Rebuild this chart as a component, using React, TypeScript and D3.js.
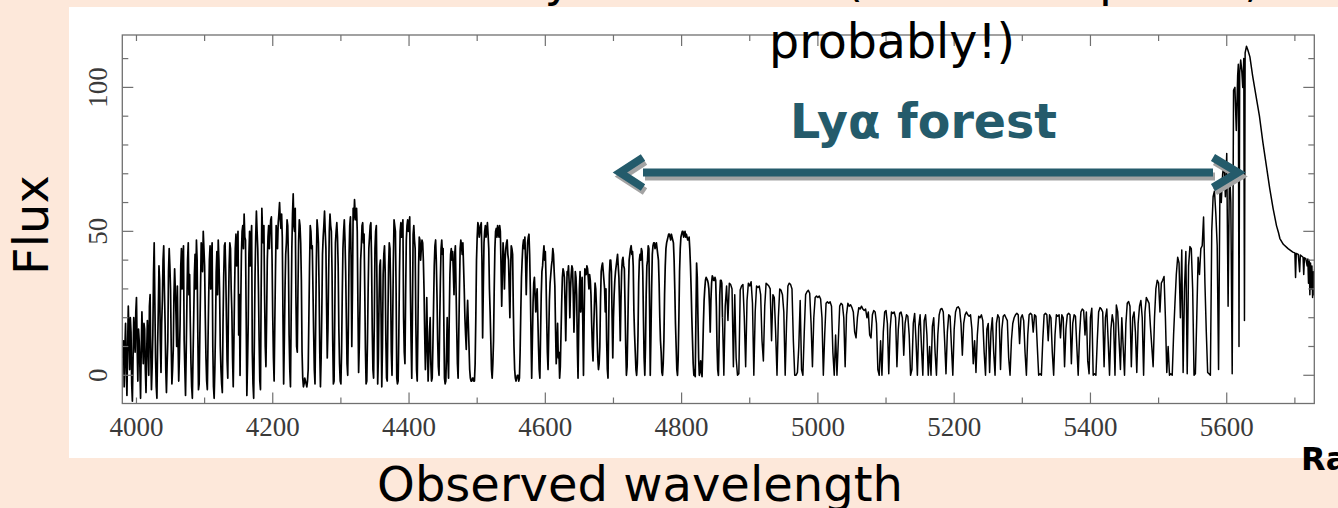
import React from "react";
import * as d3 from "d3";

const WIDTH = 1338;
const HEIGHT = 508;

// Quasar spectrum: flux vs observed wavelength (Å)
// Blue part of the Lyα forest, even-Å samples from 3980 Å
const FOREST_BLUE_START = 3980;
const FOREST_BLUE = [
  6, -4, 18, -7, 24, 2, 15, -9, 20, 8, 27, -2, 12, -8, 22, 4, 16, -6, 19, 0,
  28, -5, 14, 46, 6, -8, 22, 33, 1, 26, 45, 18, -6, 12, 44, 30, -3, 9, 37, 21,
  31, -2, 18, 44, 40, 12, -7, 25, 46, 35, 4, -8, 20, 42, 47, 15, -3, 30, 44, 50,
  38, 6, -5, 27, 45, 41, 10, -8, 16, 43, 47, 29, 2, -6, 34, 46, 20, -1, 38, 44,
  22, -4, 30, 49, 45, 14, 0, 42, 52, 56, 47, -7, 18, 50, 46, 8, -8, 35, 57, 44,
  12, -5, 58, 46, 28, 3, 40, 52, 50, 55, 20, -2, 36, 49, 53, 60, 51, 48, -3, 30,
  46, 52, 14, -4, 44, 63, 50, 27, 8, 47, 52, 33, -1, -3, -2, -4, 2, 38, 50, 45,
  15, -3, 40, 51, 30, -4, 22, 48, 57, 44, 6, 35, 56, 50, 12, -2, 46, 53, 38, 4,
  -3, 28, 50, 47, 20, 0, 42, 55, 10, 58, 61, 54, 50, 1, 24, 45, 53, 49, 9, -2,
  30, 48, 53, 16, -1, 44, 52, -3, 26, 40, -4, 35, 45, 12, -2, 38, 44, 8, 18, 54,
  50, -1, -2, 36, 53, 51, 20, 4, 47, 54, 52, 30, -1, 49, 47, 18, -2, 38, 47, 44,
];
// odd-Å samples from 3981 Å
const FOREST_BLUE_ODD = [
  12, 9, 3, 10, 14, 20, -3, 6, 14, 22, 10, 16, 3, 9, 12, 18, 2, 8, 11, 24,
  8, 3, 35, 25, -4, 10, 38, 12, 18, 40, 30, 2, 4, 36, 38, 10, 2, 28, 30, 10,
  12, 6, 38, 30, 45, 2, 8, 40, 28, 18, -4, 6, 35, 30, 40, -5, 14, 46, 36, 44,
  20, -2, 12, 40, 30, 46, -4, 2, 36, 28, 40, 10, -3, 18, 45, 36, 5, 24, 46, 30,
  6, 12, 44, 38, 50, 28, 24, 50, 44, 48, 20, 4, 42, 38, 52, -3, 12, 48, 50, 30,
  -2, 30, 50, 52, 10, 20, 48, 44, 54, 40, 6, 18, 52, 44, 56, 54, 56, 20, 12, 42,
  54, 40, 2, 20, 56, 52, 58, 10, 30, 54, 46, 8, -4, -1, -3, -2, 20, 52, 44, 30,
  2, 18, 54, 46, 8, 6, 42, 52, 50, 24, 16, 50, 52, 36, -3, 20, 50, 48, 16, -2,
  8, 44, 54, 36, 4, 18, 52, 40, 30, 54, 56, 58, 24, 10, 40, 52, 46, 30, -3, 12,
  44, 52, 40, 2, 18, 50, 30, 6, 38, 20, 10, 42, 36, -1, 20, 46, 30, 0, 40, 52,
  30, -3, 14, 50, 48, 54, 8, 28, 52, 50, 55, 12, 22, 52, 44, 2, 16, 48, 40, 47,
];

// Middle of the forest, even-Å samples from 4420 Å
const FOREST_MID_START = 4420;
const FOREST_MID = [
  46, 30, 2, 27, -2, 15, 4, -1, 24, 45, 40, 12, 0, 33, 47, 44, -1, -2, 20, -1,
  35, 44, 43, 28, 45, 16, -1, 30, 47, 42, 38, 20, 9, 26, 10, -1, -2, -1, -2, 20,
  48, 52, 50, 53, 13, 46, 52, 50, 49, 30, 12, -1, 12, 44, 51, 52, 48, 50, 24, 46,
  30, 44, 47, 40, 20, 45, 42, 10, -1, -1, 0, -1, 22, 40, 47, 48, 28, 46, 49, 30,
  -1, 25, 34, 22, 30, 10, -1, 28, 38, 45, 43, 20, 2, 26, 35, 40, 42, 31, 4, 18,
  8, 3, 25, 37, 34, 12, 36, 38, 20, 35, 37, 15, 36, 28, -1, 30, 22, 34, 0, 37,
  35, 37, 30, 33, 18, 5, 24, 30, 14, 2, 10, 36, 39, 33, 22, 12, -1, 35, 40, 20,
  20, 33, 38, 42, 34, 12, 36, 41, 37, 10, 3, 30, 42, 45, 43, 22, 8, 0, 14, 40,
  40, 43, 20, 0, 28, 40, 44, 0, 30, 45, 46, 45, 44, 40, 20, 8, 0, 12, 38, 46,
  48, 49, 47, 48, 46, 30, 10, 0, 20, 44, 49, 50, 49, 48, 48, 47, 44, 30, 12, 0,
  -0.5, 39, 20, 0, 5, -0.5, 18, 30, 34, 33, 30, 15, 32, 34, 33, 33, 10, 0, 28, 33,
];
// odd-Å samples from 4421 Å
const FOREST_MID_ODD = [
  40, 14, 10, 12, 6, 20, -2, 10, 38, 47, 28, 3, 18, 44, 42, 20, -3, 8, 6, 20,
  42, 40, 36, 42, 30, 4, 14, 44, 45, 46, 30, 14, 20, 18, 2, -2, -1, -2, 4, 40,
  53, 48, 52, 40, 30, 50, 48, 53, 44, 22, 2, 4, 30, 50, 48, 50, 52, 38, 36, 42,
  40, 46, 42, 30, 36, 44, 24, 2, -2, 0, -2, 8, 34, 45, 44, 40, 38, 48, 42, 14,
  12, 32, 28, 27, 20, 2, 14, 36, 42, 40, 34, 8, 14, 32, 38, 44, 36, 16, 10, 6,
  -1, 14, 34, 36, 24, 26, 35, 32, 30, 38, 28, 24, 34, 10, 16, 36, 30, 18, 20, 35,
  38, 34, 35, 28, 10, 16, 32, 24, 6, 4, 26, 38, 36, 30, 30, 2, 18, 40, 36, 6,
  28, 36, 40, 38, 24, 26, 40, 38, 24, 0, 16, 40, 44, 42, 38, 14, 2, 4, 32, 42,
  44, 36, 6, 10, 38, 45, 24, 14, 42, 46, 44, 46, 42, 32, 12, 1, 4, 28, 44, 47,
  49, 48, 49, 47, 40, 18, 2, 6, 36, 48, 50, 48, 50, 49, 47, 48, 38, 20, 4, 2,
  20, 34, 6, 1, 2, 8, 26, 33, 33.5, 32, 24, 26, 34.5, 33, 34, 24, 2, 12, 33, 32,
];

// Red part of the forest, [wavelength, flux]
const FOREST_RED: [number, number][] = [
  [4860, 20], [4862, 0], [4864, 24], [4866, 31], [4868, 19], [4870, 32], [4872, 31.5], [4874, 30],
  [4876, 3], [4878, 28], [4880, 6], [4882, 0], [4884, 0.5], [4886, 29.6], [4888, 31], [4890, 31.5],
  [4892, 20], [4894, 3], [4896, 26], [4898, 32], [4900, 31], [4902, 32.5], [4904, 25], [4906, 0],
  [4908, 22], [4910, 31], [4912, 30.5], [4914, 31], [4916, 28], [4918, 12], [4920, 5], [4922, 24],
  [4924, 32], [4926, 31.5], [4928, 31], [4930, 30], [4932, 12], [4934, 28], [4936, 27], [4938, 15],
  [4940, 0], [4942, 20], [4944, 30], [4946, 29.5], [4948, 28], [4950, 22], [4952, 0], [4954, 18],
  [4956, 31], [4958, 32], [4960, 31.5], [4962, 30], [4964, 12], [4966, 0], [4968, 0], [4970, 1],
  [4972, 10], [4974, 26], [4976, 2], [4978, 0], [4980, 15], [4982, 28], [4984, 29], [4986, 29.5],
  [4988, 28.5], [4990, 18], [4992, 3], [4994, 20], [4996, 27], [4998, 27.5], [5000, 27], [5002, 27.5],
  [5004, 26.5], [5006, 20], [5008, 0], [5010, 14], [5012, 25], [5014, 25.5], [5016, 25], [5018, 25.5],
  [5020, 24], [5022, 8], [5024, 0], [5026, 14], [5028, 0], [5030, 12], [5032, 24], [5034, 25],
  [5036, 24.5], [5038, 20], [5040, 3], [5042, 21], [5044, 25], [5046, 24], [5048, 24.5], [5050, 23.5],
  [5052, 22], [5054, 15], [5056, 13], [5058, 20], [5060, 23.5], [5062, 23], [5064, 24], [5066, 23],
  [5068, 22.5], [5070, 23], [5072, 20], [5074, 22], [5076, 14], [5078, 13], [5080, 21], [5082, 22.5],
  [5084, 22], [5086, 18], [5088, 2], [5090, 0], [5092, 12], [5094, 0], [5096, 15], [5098, 22],
  [5100, 22.5], [5102, 18], [5104, 0.5], [5106, 16], [5108, 22], [5110, 21.5], [5112, 22], [5114, 20],
  [5116, 3], [5118, 16], [5120, 21.5], [5122, 22], [5124, 20], [5126, 7], [5128, 18], [5130, 21],
  [5132, 20.5], [5134, 14], [5136, 0], [5138, 2], [5140, 18], [5142, 21.5], [5144, 12], [5146, 0],
  [5148, 17], [5150, 21], [5152, 10], [5154, 0], [5156, 19], [5158, 21], [5160, 14], [5162, 0],
  [5164, 10], [5166, 0], [5168, 17], [5170, 20], [5172, 8], [5174, 0], [5176, 14], [5178, 21],
  [5180, 23], [5182, 23.2], [5184, 22], [5186, 12], [5188, 0.5], [5190, 15], [5192, 21], [5194, 20.5],
  [5196, 10], [5198, 0], [5200, 16], [5202, 22], [5204, 23.5], [5206, 23.8], [5208, 23], [5210, 18],
  [5212, 7], [5214, 18], [5216, 21], [5218, 22], [5220, 21], [5222, 20.5], [5224, 21], [5226, 16],
  [5228, 4], [5230, 12], [5232, 1], [5234, 14], [5236, 20.5], [5238, 20], [5240, 21], [5242, 19],
  [5244, 8], [5246, 0], [5248, 16], [5250, 18], [5252, 1], [5254, 15], [5256, 20], [5258, 8],
  [5260, 0], [5262, 18], [5264, 21], [5266, 20], [5268, 2], [5270, 16], [5272, 20.5], [5274, 21],
  [5276, 20], [5278, 19], [5280, 6],
];

const FOREST_NEAR: [number, number][] = [
  [5282, 0], [5284, 12], [5286, 18], [5288, 20], [5290, 21], [5292, 21.5], [5294, 21], [5296, 11],
  [5298, 20], [5300, 21], [5302, 19], [5304, 8], [5306, 0], [5308, 14], [5310, 21], [5312, 21.5],
  [5314, 21], [5316, 15], [5318, 21], [5320, 20.5], [5322, 10], [5324, 0], [5326, 0.5], [5328, 0],
  [5330, 12], [5332, 21], [5334, 21.5], [5336, 21], [5338, 12], [5340, 21], [5342, 20], [5344, 8],
  [5346, 0], [5348, 14], [5350, 21], [5352, 20.5], [5354, 21], [5356, 13], [5358, 21], [5360, 20],
  [5362, 3], [5364, 16], [5366, 21], [5368, 21.5], [5370, 21], [5372, 4], [5374, 18], [5376, 21],
  [5378, 20.5], [5380, 10], [5382, 0], [5384, 14], [5386, 22], [5388, 23], [5390, 22.5], [5392, 14],
  [5394, 22], [5396, 5], [5398, 0.5], [5400, 20], [5402, 23.3], [5404, 0], [5406, 0.5], [5408, 0],
  [5410, 12], [5412, 22], [5414, 23.5], [5416, 23], [5418, 22], [5420, 3], [5422, 20], [5424, 23],
  [5426, 12], [5428, 0], [5430, 16], [5432, 21], [5434, 18], [5436, 0], [5438, 24.4], [5440, 22],
  [5442, 12], [5444, 2], [5446, 20], [5448, 10], [5450, 0], [5452, 18], [5454, 25], [5456, 25.6],
  [5458, 24], [5460, 3], [5462, 20], [5464, 22], [5466, 15], [5468, 1], [5470, 18], [5472, 24],
  [5474, 26], [5476, 20], [5478, 0], [5480, 22], [5482, 27], [5484, 26], [5486, 25], [5488, 17],
  [5490, 10], [5492, 3], [5494, 20], [5496, 30], [5498, 33], [5500, 32], [5502, 22], [5504, 32],
  [5506, 33], [5508, 34.3], [5510, 20], [5512, 1], [5514, 10], [5516, 0], [5518, 0.5], [5520, 0],
  [5522, 14], [5524, 25], [5526, 35], [5528, 41], [5530, 39], [5532, 20], [5534, 43.5], [5536, 1],
  [5538, 30], [5540, 43], [5542, 0.5], [5544, 38], [5546, 44.7], [5548, 44], [5550, 30], [5552, 0],
  [5554, 0.5], [5556, 20], [5558, 41], [5560, 35], [5562, 44], [5564, 45], [5566, 55], [5568, 32],
  [5570, 15], [5572, 1], [5574, 0.5], [5576, 0], [5578, 50], [5580, 62], [5582, 64], [5584, 56],
  [5586, 45], [5588, 2], [5590, 65], [5592, 60], [5594, 70], [5596, 73.6], [5598, 62], [5600, 77],
];

// Lyα emission peak and its red wing
const LYA_EMISSION: [number, number][] = [
  [5602, 24], [5604, 72], [5606, 60], [5608, 0.5], [5610, 99], [5612, 100], [5614, 85], [5616, 104],
  [5617, 108], [5618, 10], [5619, 105], [5620.5, 109.5], [5622, 106], [5623.5, 100], [5625, 110],
  [5626, 19], [5627, 112], [5629, 114.3], [5631, 113], [5634, 110.6], [5638, 104], [5643, 97],
  [5648, 90], [5653, 81], [5658, 73], [5663, 65], [5668, 58], [5673, 52], [5676, 49.5], [5678, 47.5],
  [5683, 45.5], [5690, 44], [5697, 42.8], [5700, 42.5], [5701, 34], [5702, 42.3], [5705, 42],
  [5707, 36], [5708, 41.8], [5712, 41], [5713, 35], [5714, 40.8], [5716, 40.5], [5718, 38],
  [5719, 40.4], [5720, 32], [5721, 40], [5722, 28], [5723, 39], [5724, 30], [5725, 38], [5726, 27],
  [5727, 36], [5728, 28], [5729, 37],
];

const X_TICK_LABELS = [4000, 4200, 4400, 4600, 4800, 5000, 5200, 5400, 5600];
const X_TICKS = [4000, 4100, 4200, 4300, 4400, 4500, 4600, 4700, 4800, 4900, 5000, 5100, 5200, 5300, 5400, 5500, 5600, 5700];
const X_LONG_TICKS = [4200, 4400, 4600, 4800, 5000, 5200, 5400, 5600];
const Y_TICK_LABELS = [0, 50, 100];
const Y_TICKS = [0, 10, 20, 30, 40, 50, 60, 70, 80, 90, 100, 110];

const TEAL = "#245b6b";
const PEACH = "#fde8da";

// every-other-Å grid: sample i sits at start + 2i
const onGrid = (values: number[], start: number): [number, number][] =>
  values.map((f, i) => [start + 2 * i, f] as [number, number]);

export default function App() {
  const left = 122.3, right = 1314.3, top = 35, bottom = 403.5;
  const x = d3.scaleLinear().domain([3979.2, 5728.5]).range([left, right]);
  const y = d3.scaleLinear().domain([-9.8, 118.2]).range([bottom, top]);

  const forest = [
    ...onGrid(FOREST_BLUE, FOREST_BLUE_START),
    ...onGrid(FOREST_BLUE_ODD, FOREST_BLUE_START + 1),
    ...onGrid(FOREST_MID, FOREST_MID_START),
    ...onGrid(FOREST_MID_ODD, FOREST_MID_START + 1),
  ].sort((a, b) => a[0] - b[0]);

  const line = d3.line<[number, number]>().x((d) => x(d[0])).y((d) => y(d[1]));
  // the densely sampled blue forest and the sparser red side are stroked separately
  const forestPath = line([...forest, FOREST_RED[0]]) || "";
  const redPath = line([...FOREST_RED, ...FOREST_NEAR, ...LYA_EMISSION]) || "";

  const sans = "'DejaVu Sans', Verdana, sans-serif";
  const serif = "'Liberation Serif', 'DejaVu Serif', serif";
  const axisColor = "#707070";

  const arrowY = 172.5;
  const shaftL = 643, shaftR = 1213;
  const arrowParts = (dx: number, dy: number, color: string) => (
    <g transform={`translate(${dx},${dy})`} stroke={color} strokeWidth={8} fill="none" strokeLinejoin="miter" strokeMiterlimit={10}>
      <line x1={shaftL} x2={shaftR} y1={arrowY} y2={arrowY} />
      <polyline points={`${shaftL},${arrowY - 15} ${620},${arrowY} ${shaftL},${arrowY + 15}`} />
      <polyline points={`${shaftR},${arrowY - 15} ${1238},${arrowY} ${shaftR},${arrowY + 15}`} />
    </g>
  );

  return (
    <svg width={WIDTH} height={HEIGHT} style={{ position: "absolute", left: 0, top: 0, display: "block" }}>
      <defs>
        <clipPath id="plotClip">
          <rect x={left} y={top} width={right - left} height={bottom - top} />
        </clipPath>
      </defs>
      <rect x={0} y={0} width={WIDTH} height={HEIGHT} fill={PEACH} />

      {/* first line of the caption, mostly hidden behind the figure panel */}
      <text x={891} y={-4} textAnchor="middle" fontFamily={sans} fontSize={47.5} fill="#000">
        Lyα emission (from the quasar,
      </text>

      {/* figure panel */}
      <rect x={69} y={7} width={WIDTH - 69} height={451} fill="#fff" />

      {/* spectrum */}
      <g clipPath="url(#plotClip)" fill="none" stroke="#000" strokeLinejoin="round">
        <path d={forestPath} strokeWidth={1.7} />
        <path d={redPath} strokeWidth={1.5} />
      </g>

      {/* frame and ticks */}
      <rect x={left} y={top} width={right - left} height={bottom - top} fill="none" stroke={axisColor} strokeWidth={1.3} />
      {X_TICKS.map((t) => {
        const len = X_LONG_TICKS.includes(t) ? 11 : 6;
        return (
          <g key={`xt${t}`} stroke={axisColor} strokeWidth={1.2}>
            <line x1={x(t)} x2={x(t)} y1={bottom} y2={bottom - len} />
            <line x1={x(t)} x2={x(t)} y1={top} y2={top + len} />
          </g>
        );
      })}
      {Y_TICKS.map((t) => {
        const len = Y_TICK_LABELS.includes(t) ? 11 : 6;
        return (
          <g key={`yt${t}`} stroke={axisColor} strokeWidth={1.2}>
            <line x1={left} x2={left + len} y1={y(t)} y2={y(t)} />
            <line x1={right} x2={right - len} y1={y(t)} y2={y(t)} />
          </g>
        );
      })}
      {X_TICK_LABELS.map((t) => (
        <text key={`xl${t}`} x={x(t)} y={436} textAnchor="middle" fontFamily={serif} fontSize={27} fill="#3a3a3a">
          {t}
        </text>
      ))}
      {Y_TICK_LABELS.map((t) => (
        <text key={`yl${t}`} transform={`translate(107,${y(t)}) rotate(-90)`} textAnchor="middle" fontFamily={serif} fontSize={27} fill="#3a3a3a">
          {t}
        </text>
      ))}

      {/* axis titles */}
      <text transform="translate(48,225) rotate(-90)" textAnchor="middle" fontFamily={sans} fontSize={48} fill="#000">
        Flux
      </text>
      <text x={640} y={501} textAnchor="middle" fontFamily={sans} fontSize={48} fill="#000">
        Observed wavelength
      </text>

      {/* caption second line */}
      <text x={769} y={57.5} fontFamily={sans} fontSize={47.5} fill="#000">
        probably!)
      </text>

      {/* Lyα forest annotation */}
      {arrowParts(2, 4, "#a3a3a3")}
      {arrowParts(0, 0, TEAL)}
      <text x={923.5} y={138} textAnchor="middle" fontFamily={sans} fontWeight="bold" fontSize={47.5} fill={TEAL}>
        Lyα forest
      </text>

      <text x={1301} y={470} fontFamily={sans} fontWeight="bold" fontSize={32} fill="#000">
        Ra
      </text>
    </svg>
  );
}
